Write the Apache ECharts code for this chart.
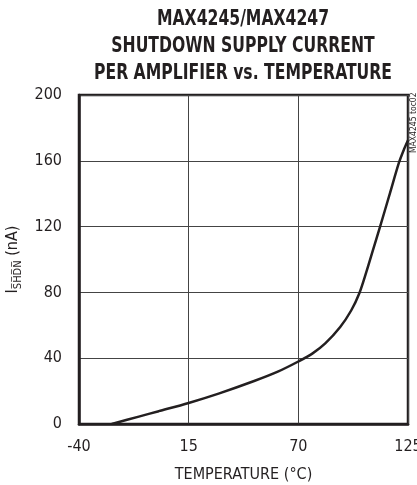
<!DOCTYPE html>
<html>
<head>
<meta charset="utf-8">
<script src="https://cdn.jsdelivr.net/npm/echarts@6/dist/echarts.min.js"></script>
<style>
  html, body { margin: 0; padding: 0; background: #fff; }
  #chart { width: 417px; height: 485px; }
</style>
</head>
<body>
<div id="chart"></div>
<script>
// temperature (°C) and shutdown current (nA)
const temps = [-23.6, -10, 0, 15, 30, 47.5, 60, 70, 77, 83.5, 91, 96.5, 100.6, 104, 107.5, 111, 116, 120.5, 123, 125]
const current = [0, 4.5, 7.8, 12.8, 18.5, 26, 32, 38, 42.8, 49, 59, 69, 79.5, 92, 106, 120, 140.5, 159, 167, 172.5]
const xTicks = [-40, 15, 70, 125]
const yTicks = [0, 40, 80, 120, 160, 200]
const titleLines = ['MAX4245/MAX4247', 'SHUTDOWN SUPPLY CURRENT', 'PER AMPLIFIER vs. TEMPERATURE']

const font = '"Liberation Sans Narrow", "DejaVu Sans Condensed", sans-serif'
const ink = '#231f20'

const chart = echarts.init(document.getElementById('chart'), null, { renderer: 'canvas' })

chart.setOption({
  animation: false,
  grid: {
    left: 79,
    right: 9,
    top: 95,
    bottom: 61,
    outerBoundsMode: 'none',
    show: true,
    borderColor: ink,
    borderWidth: 2.5
  },
  xAxis: {
    type: 'value',
    min: xTicks[0],
    max: xTicks[xTicks.length - 1],
    interval: 55,
    name: 'TEMPERATURE (°C)',
    nameLocation: 'middle',
    nameGap: 43,
    nameTextStyle: { fontFamily: font, fontSize: 16, color: ink },
    axisLine: { show: true, onZero: false, lineStyle: { color: ink, width: 2.5 } },
    axisTick: { show: false },
    axisLabel: { fontFamily: font, fontSize: 16, color: ink, margin: 15 },
    splitLine: { show: true, lineStyle: { color: '#444', width: 1 } }
  },
  yAxis: {
    type: 'value',
    min: yTicks[0],
    max: yTicks[yTicks.length - 1],
    interval: 40,
    name: '{a|I}{b|S\u0305H\u0305D\u0305N\u0305}{a| (nA)}',
    nameLocation: 'middle',
    nameGap: 55,
    nameRotate: 90,
    nameTextStyle: {
      rich: {
        a: { fontFamily: font, fontSize: 16, color: ink, lineHeight: 20, verticalAlign: 'bottom' },
        b: { fontFamily: font, fontSize: 11, color: ink, lineHeight: 20, verticalAlign: 'bottom', padding: [0, 0, -3, 0] }
      }
    },
    axisLine: { show: true, onZero: false, lineStyle: { color: ink, width: 2.5 } },
    axisTick: { show: false },
    axisLabel: { fontFamily: font, fontSize: 16, color: ink, margin: 17 },
    splitLine: { show: true, lineStyle: { color: '#444', width: 1 } }
  },
  graphic: [{
    // narrow bold title: squeeze the condensed face horizontally
    type: 'text',
    x: 243,
    y: 6,
    scaleX: 0.79,
    style: {
      text: titleLines.join('\n'),
      x: 0,
      y: 0,
      align: 'center',
      verticalAlign: 'top',
      fontFamily: font,
      fontWeight: 'bold',
      fontSize: 22,
      lineHeight: 27,
      fill: ink
    }
  }, {
    type: 'text',
    x: 409,
    y: 153,
    rotation: Math.PI / 2,
    style: {
      text: 'MAX4245 toc02',
      x: 0,
      y: 0,
      align: 'left',
      verticalAlign: 'top',
      fontFamily: font,
      fontSize: 8.5,
      fill: ink
    }
  }],
  series: [{
    type: 'line',
    data: temps.map((t, i) => [t, current[i]]),
    smooth: 0.3,
    showSymbol: false,
    lineStyle: { color: ink, width: 2.5 }
  }]
})
</script>
</body>
</html>
